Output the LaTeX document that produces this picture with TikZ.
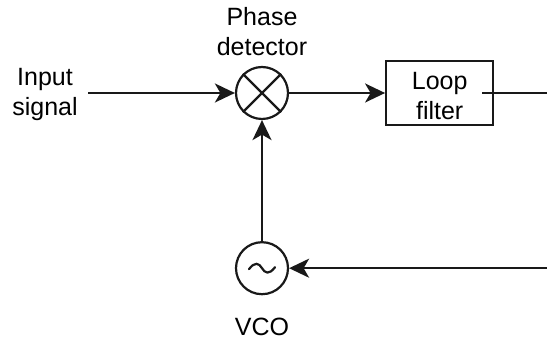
\documentclass[tikz,border=0pt]{standalone}
\usepackage{fontspec}
\setmainfont{Liberation Sans}
\usepackage{tikz}
\usetikzlibrary{
  arrows.meta,
  positioning
}
\tikzset{
  link/.style={line width=2.2pt, black!90},
  flow/.style={link, -{Stealth[length=20pt, width=19pt, inset=5.5pt]}},
  mixer/.style={draw=black!90, line width=2.2pt, circle, fill=white, minimum size=52pt, inner sep=0pt},
  filterbox/.style={draw=black!90, line width=2.2pt, fill=white, minimum width=107pt, minimum height=64pt, inner sep=0pt, align=center},
  caption/.style={align=center, inner sep=0pt},
  every node/.append style={font=\fontsize{25}{30}\selectfont}
}

\begin{document}
\begin{tikzpicture}[x=1pt, y=1pt]
  \useasboundingbox (0,0) rectangle (547,342);

  \node[mixer] (pd) at (262,249) {};
  \node[mixer, below=121pt of pd] (vco) {};
  \node[filterbox, right=96pt of pd] (filter) {\rule{0pt}{24pt}Loop\\filter};
  \node[caption, left=157pt of pd, yshift=-2pt] (input) {Input\\signal};
  \node[caption, above=10pt of pd] (pdlabel) {Phase\\detector};
  \node[caption, below=23pt of vco] (vcolabel) {VCO};

  % mixer cross and oscillator wave
  \draw[link] (pd.north west) -- (pd.south east);
  \draw[link] (pd.north east) -- (pd.south west);
  \draw[link, line cap=round] ([xshift=-13pt, yshift=-1pt]vco.center)
    .. controls ([xshift=-7pt, yshift=7pt]vco.center) and ([xshift=-3pt, yshift=5pt]vco.center) .. (vco.center)
    .. controls ([xshift=3pt, yshift=-5pt]vco.center) and ([xshift=7pt, yshift=-7pt]vco.center) .. ([xshift=13pt, yshift=1pt]vco.center);

  % free ends at the right edge
  \coordinate (fout) at (482,249);
  \coordinate (fend) at (547,249);
  \coordinate (vend) at (vco -| fend);
  \coordinate (start) at (88,249);

  \draw[flow] (start) -- (pd);
  \draw[flow] (pd) -- (filter);
  \draw[link] (fout) -- (fend);
  \draw[flow] (vco) -- (pd);
  \draw[flow] (vend) -- (vco);
\end{tikzpicture}
\end{document}
